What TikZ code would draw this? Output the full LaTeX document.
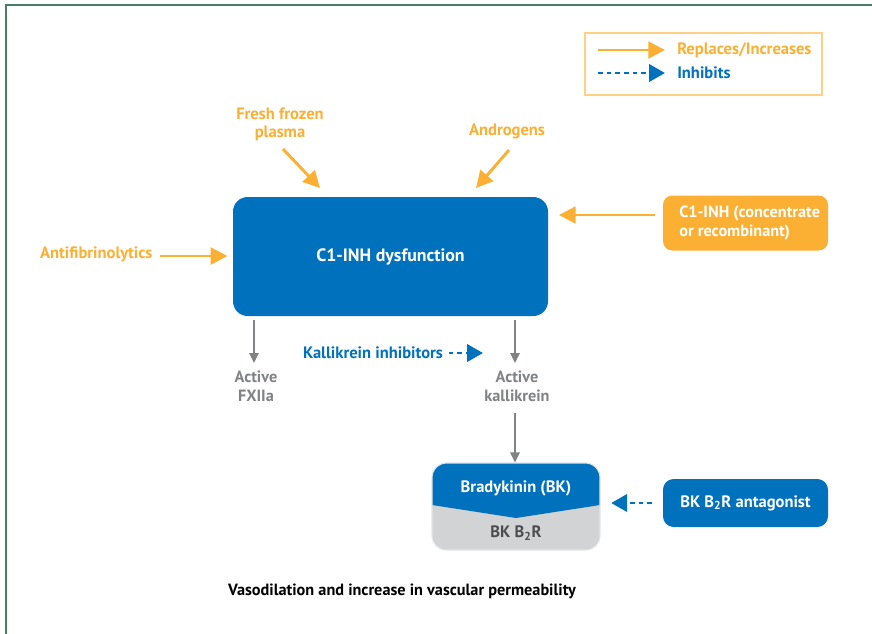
\documentclass[tikz,border=0pt]{standalone}
\usepackage{fontspec}
\setmainfont{PT Sans}
\usetikzlibrary{arrows.meta}
\definecolor{cblue}{RGB}{0,113,188}
\definecolor{corange}{RGB}{251,176,52}
\definecolor{cgray}{RGB}{128,130,133}
\definecolor{cdark}{RGB}{77,77,79}
\definecolor{clight}{RGB}{209,211,212}
\definecolor{cframe}{RGB}{76,124,98}
\newcommand{\fs}{\bfseries\fontsize{12.4}{14}\selectfont}
\tikzset{
  px/.style={x=0.75pt,y=-0.75pt},
  olab/.style={text=corange,font=\bfseries\fontsize{12.4}{13.5}\selectfont,align=center,inner sep=1pt},
  glab/.style={text=cgray,font=\bfseries\fontsize{12.2}{14.5}\selectfont,align=center,inner sep=1pt},
  oarrow/.style={draw=corange,line width=2.2pt,-{Triangle[length=12.5pt,width=12.5pt]}},
  garrow/.style={draw=cgray,line width=1.4pt,-{Triangle[length=7.5pt,width=7pt]}},
  barrow/.style={draw=cblue,line width=2.2pt,dash pattern=on 3.5pt off 3pt,-{Triangle[length=12pt,width=13pt]}},
  bluebox/.style={fill=cblue,rounded corners=11pt,text=white,inner sep=0pt},
}
\begin{document}
\begin{tikzpicture}[px]
\useasboundingbox (0,0) rectangle (872,633);
\fill[white] (0,0) rectangle (872,633);
% frame
\draw[cframe,line width=1.8pt] (6,640) -- (6,5) -- (880,5);
% legend
\node[draw=corange!60,line width=1pt,minimum width=237*0.75pt,minimum height=62*0.75pt,inner sep=0pt] (legend) at (703.5,64) {};
\coordinate (l1s) at (598,50); \coordinate (l1e) at (665,50);
\coordinate (l2s) at (598,73); \coordinate (l2e) at (665,73);
\draw[oarrow] (l1s) -- (l1e);
\draw[barrow] (l2s) -- (l2e);
\node[anchor=west,text=corange,font=\fs,inner sep=0pt] (t1) at (677,50) {Replaces/Increases};
\node[anchor=west,text=cblue,font=\fs,inner sep=0pt] (t2) at (677,73) {Inhibits};
% main box
\node[bluebox,minimum width=315*0.75pt,minimum height=119*0.75pt,font=\bfseries\fontsize{13.4}{15}\selectfont] (main) at (390.5,256.5) {C1-INH dysfunction};
% inputs
\node[olab] (ffp) at (280,124) {Fresh frozen\\plasma};
\node[olab] (andr) at (507,131) {Androgens};
\node[olab,anchor=east] (anti) at (154,254) {Antifibrinolytics};
\node[fill=corange,rounded corners=7pt,minimum width=165*0.75pt,minimum height=55*0.75pt,inner sep=0pt] (c1) at (745.5,223) {};
\node[anchor=west,text=white,font=\bfseries\fontsize{12.2}{14}\selectfont,align=left,inner sep=0pt] (c1t) at (679,223) {C1-INH (concentrate\\or recombinant)};
\coordinate (ffpS) at (283,149); \coordinate (ffpE) at (320,188);
\coordinate (anS) at (509,150); \coordinate (anE) at (476,188);
\draw[oarrow] (ffpS) -- (ffpE);
\draw[oarrow] (anS) -- (anE);
\draw[oarrow] (anti.east) ++(6,2) coordinate (aS) -- ([xshift=-4]main.west |- aS);
\draw[oarrow] (c1.west |- 0,215) ++(-8,0) coordinate (cS) -- ([xshift=8] main.east |- cS);
% outputs
\node[glab] (fx) at (256,386) {Active\\FXIIa};
\node[glab] (kal) at (517,386) {Active\\kallikrein};
\draw[garrow] (254,320) coordinate (g1) -- (254,363);
\draw[garrow] (515,320) coordinate (g2) -- (515,363);
\node[text=cblue,font=\fs,inner sep=1pt] (kinh) at (373,353) {Kallikrein inhibitors};
\draw[barrow] (kinh.east) ++(4,0) coordinate (kS) -- (483,353);
% bradykinin
\node[draw=clight!60!white,line width=0.8pt,rounded corners=11pt,minimum width=168*0.75pt,minimum height=87*0.75pt,inner sep=0pt,
  path picture={
    \fill[clight,sharp corners] (path picture bounding box.south west) rectangle (path picture bounding box.north east);
    \fill[cblue,sharp corners] (path picture bounding box.north west) -- ([yshift=-42*0.75pt]path picture bounding box.north west) -- ([yshift=-55*0.75pt]path picture bounding box.north) -- ([yshift=-42*0.75pt]path picture bounding box.north east) -- (path picture bounding box.north east) -- cycle;
  }] (bk) at (516,506.5) {};
\node[text=white,font=\fs] (bkt) at (516,488) {Bradykinin (BK)};
\node[text=cdark,font=\fs] (bkr) at (516,533) {BK B\textsubscript{2}R};
\draw[garrow] (kal.south) ++(-2,10) coordinate (g3) -- (bk.north -| g3);
% antagonist
\node[bluebox,rounded corners=8pt,minimum width=165*0.75pt,minimum height=48*0.75pt,font=\fs] (ant) at (745.5,503) {BK B\textsubscript{2}R antagonist};
\draw[barrow] ([xshift=-8]ant.west) -- ([xshift=8]bk.east |- ant.west);
% footer
\node[font=\bfseries\fontsize{12.2}{14}\selectfont] (foot) at (402,591) {Vasodilation and increase in vascular permeability};
\end{tikzpicture}
\end{document}
